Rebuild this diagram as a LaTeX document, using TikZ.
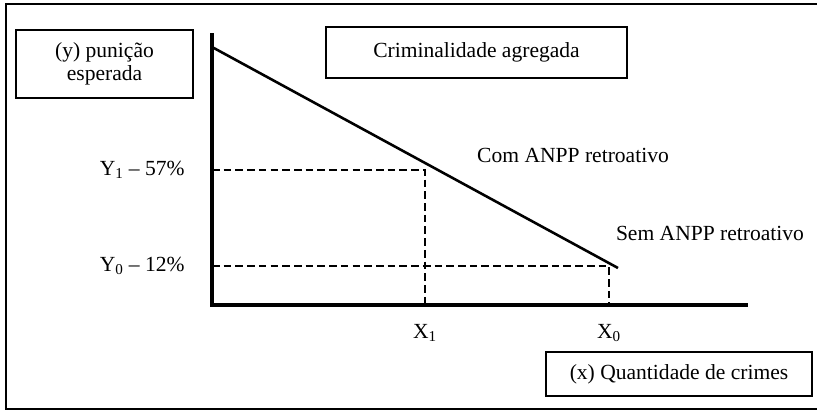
\documentclass[tikz,border=0pt]{standalone}
\usepackage{fontspec}
\setmainfont{Liberation Serif}
\usepackage{tikz}
\usetikzlibrary{positioning}

\begin{document}
\begin{tikzpicture}[x=0.03cm,y=-0.03cm,font=\fontsize{18.4}{20}\selectfont,
    axis/.style={line width=2.8pt},
    guide/.style={line width=2.4pt, dash pattern=on 6.5pt off 3.5pt}]
        \tikzstyle{labelbox} = [draw, line width=1.2pt, align=center, inner sep=0pt]
        \useasboundingbox (0,0) rectangle (817,412);
        % frame (right side cut off)
        \draw[line width=1.4pt] (817,4) -- (6,4) -- (6,409) -- (817,409);

        % axis points
        \coordinate (o) at (212,305);
        \coordinate (ytop) at (212,33);
        \coordinate (xend) at (748,305);
        \coordinate (start) at (212,47);
        \coordinate (stop) at (618,268);
        \coordinate (y1) at (212,170);
        \coordinate (p1) at (425,170);
        \coordinate (x1) at (425,305);
        \coordinate (y0) at (212,266);
        \coordinate (p0) at (609,266);
        \coordinate (x0) at (609,305);

        \node[labelbox, minimum width=5.31cm, minimum height=2.04cm] (ylab) at (104.5,64) {(y) punição\\esperada};
        \node[labelbox, minimum width=9.03cm, minimum height=1.53cm] (title) at (476.5,52.5) {Criminalidade agregada};
        \node[labelbox, minimum width=7.98cm, minimum height=1.32cm] (xlab) at (679,374) {(x) Quantidade de crimes};

        \node[left = 0.7cm of y1] (ly1) {Y\textsubscript{1} – 57\%};
        \node[left = 0.7cm of y0] (ly0) {Y\textsubscript{0} – 12\%};
        \node[below = 0.45cm of x1] (lx1) {X\textsubscript{1}};
        \node[below = 0.45cm of x0] (lx0) {X\textsubscript{0}};
        \node (com) at (573,155) {Com ANPP retroativo};
        \node (sem) at (710,233) {Sem ANPP retroativo};

        \draw[axis] (ytop) -- (o) -- (xend);
        \draw[line width=2.2pt] (start) -- (stop);
        \draw[guide] (y1) -- (p1) -- (x1);
        \draw[guide] (y0) -- (p0) -- (x0);
\end{tikzpicture}
\end{document}
